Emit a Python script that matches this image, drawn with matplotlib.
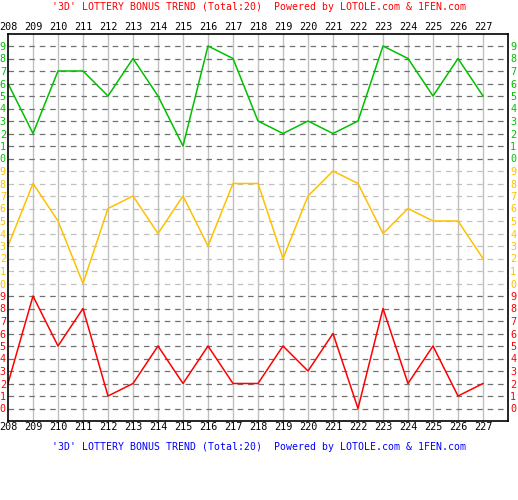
import numpy as np
import matplotlib.pyplot as plt

plt.rcParams['font.family'] = 'DejaVu Sans Mono'
plt.rcParams['lines.scale_dashes'] = False

# draw numbers 208..227
issues = list(range(208, 228))
# digit of each position (hundreds / tens / units)
green_vals = [6, 2, 7, 7, 5, 8, 5, 1, 9, 8, 3, 2, 3, 2, 3, 9, 8, 5, 8, 5]
yellow_vals = [3, 8, 5, 0, 6, 7, 4, 7, 3, 8, 8, 2, 7, 9, 8, 4, 6, 5, 5, 2]
red_vals = [2, 9, 5, 8, 1, 2, 5, 2, 5, 2, 2, 5, 3, 6, 0, 8, 2, 5, 1, 2]

GREEN = '#00c000'
YELLOW = '#ffc000'
RED = '#ff0000'

title = "'3D' LOTTERY BONUS TREND (Total:20)  Powered by LOTOLE.com & 1FEN.com"

fig = plt.figure(figsize=(5.18, 5.0), dpi=100)
ax = fig.add_axes([8 / 518, 1 - 421 / 500, 500 / 518, (421 - 33.5) / 500])

x = np.arange(len(issues))
ax.set_xlim(0, 20)
ax.set_ylim(-1, 30)

# grid
for i in range(1, 20):
    ax.axvline(i, color='#c0c0c0', lw=1, zorder=1)
for lev in range(30):
    c = '#c0c0c0' if 10 <= lev <= 19 else '#707070'
    ax.axhline(lev, color=c, lw=0.9, ls=(0, (4, 3.5)), zorder=2)

# trend lines
ax.plot(x, np.array(green_vals) + 20, color=GREEN, lw=1.1, zorder=3)
ax.plot(x, np.array(yellow_vals) + 10, color=YELLOW, lw=1.1, zorder=3)
ax.plot(x, np.array(red_vals), color=RED, lw=1.1, zorder=3)

# y labels both sides
ax.set_yticks(range(30))
ax.set_yticklabels([str(i % 10) for i in range(30)])
ax.tick_params(axis='y', length=0, labelsize=7.3, left=False, right=False,
               labelleft=True, labelright=True, pad=1.5)
for i, t in enumerate(ax.yaxis.get_major_ticks()):
    c = RED if i < 10 else (YELLOW if i < 20 else GREEN)
    t.label1.set_color(c)
    t.label2.set_color(c)

# x labels top and bottom
ax.set_xticks(x)
ax.set_xticklabels([str(v) for v in issues])
ax.tick_params(axis='x', length=0, labelsize=7.3, top=False, bottom=False,
               labeltop=True, labelbottom=True, pad=0.8)

for s in ax.spines.values():
    s.set_linewidth(1.2)
    s.set_color('black')
    s.set_zorder(5)

fig.text(0.5, 1 - 7 / 500, title, color=RED, fontsize=7.1, ha='center', va='center')
fig.text(0.5, 1 - 447 / 500, title, color='#0000ff', fontsize=7.1, ha='center', va='center')

fig.savefig('out.png', dpi=100)
